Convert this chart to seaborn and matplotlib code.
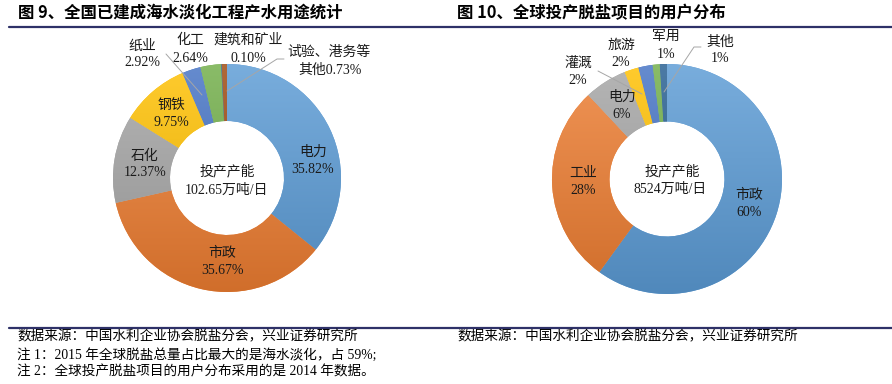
import matplotlib
matplotlib.use("Agg")
import numpy as np
import matplotlib.pyplot as plt
import seaborn as sns
from matplotlib.colors import LinearSegmentedColormap, to_rgb
from matplotlib.lines import Line2D

# data
left_names = ['电力', '市政', '石化', '钢铁', '化工', '纸业', '建筑和矿业', '试验、港务等其他']
left_values = [35.82, 35.67, 12.37, 9.75, 2.64, 2.92, 0.10, 0.73]
left_total = '102.65万吨/日'

right_names = ['市政', '工业', '电力', '灌溉', '旅游', '军用', '其他']
right_values = [60, 28, 6, 2, 2, 1, 1]
right_total = '8524万吨/日'

office_colors = ['#5B9BD5', '#ED7D31', '#A5A5A5', '#FFC000',
                 '#4472C4', '#70AD47', '#255E91', '#9E480E']

sns.set_theme(style="white")
plt.rcParams['font.family'] = ['Liberation Serif', 'Noto Sans CJK SC', 'DejaVu Sans']
palette = sns.color_palette(office_colors)

W, H = 892, 384
fig = plt.figure(figsize=(W / 100, H / 100), dpi=100)
fig.patch.set_facecolor('white')


def fx(x):
    return x / W


def fy(y):
    return 1 - y / H


def put(x, y, s, size=10, **kw):
    fig.text(fx(x), fy(y), s, ha=kw.pop('ha', 'center'), va='center',
             fontsize=size, color=kw.pop('color', '#1a1a1a'), **kw)


def leader(points):
    xs = [fx(p[0]) for p in points]
    ys = [fy(p[1]) for p in points]
    fig.add_artist(Line2D(xs, ys, transform=fig.transFigure,
                          color='#A6A6A6', lw=0.7))


def shade(c, f):
    r = np.array(to_rgb(c))
    if f > 0:
        return tuple(r + (1 - r) * f)
    return tuple(r * (1 + f))


def donut(cx, cy, r, values, colors):
    ax = fig.add_axes([(cx - r) / W, (H - cy - r) / H, 2 * r / W, 2 * r / H])
    wedges, _ = ax.pie(values, colors=colors, startangle=90, counterclock=False,
                       radius=1, wedgeprops=dict(width=0.5, linewidth=0))
    grad = np.linspace(0, 1, 256).reshape(-1, 1)
    for w, c in zip(wedges, colors):
        cmap = LinearSegmentedColormap.from_list('g', [shade(c, 0.18), shade(c, -0.12)])
        im = ax.imshow(grad, cmap=cmap, extent=(-1, 1, -1, 1), origin='upper',
                       aspect='auto', zorder=w.get_zorder())
        im.set_clip_path(w)
    ax.set_xlim(-1, 1)
    ax.set_ylim(-1, 1)
    ax.axis('off')
    return ax


# titles and rules
put(18, 13, '图 9、全国已建成海水淡化工程产水用途统计', size=11.8, ha='left',
    weight='bold', family=['Noto Sans CJK SC', 'DejaVu Sans'], color='black')
put(457, 13, '图 10、全球投产脱盐项目的用户分布', size=11.8, ha='left',
    weight='bold', family=['Noto Sans CJK SC', 'DejaVu Sans'], color='black')
for yy in (27, 328):
    fig.add_artist(Line2D([fx(9), 1], [fy(yy), fy(yy)], transform=fig.transFigure,
                          color='#2E3168', lw=1.6))

# left donut
donut(227, 178, 114, left_values, [palette[i] for i in range(len(left_values))])
pct_left = [f'{v:.2f}%' for v in left_values]
left_pos = [(313, 152, 170), (222, 253, 270), (145, 156, 173), (171, 105, 123),
            (190, 40, 58), (142, 46, 63), (248, 40, 58)]
for (x, y1, y2), n, p in zip(left_pos, left_names, pct_left):
    put(x, y1, n)
    put(x, y2, p)
put(329, 52, left_names[7][:6])
put(330, 70, left_names[7][6:] + pct_left[7])
put(227, 172, '投产产能')
put(226, 190, left_total)
leader([(166, 54), (202, 95)])
leader([(284, 59), (277, 59), (227, 91)])

# right donut
donut(667, 179, 115, right_values, [palette[i] for i in range(len(right_values))])
pct_right = [f'{v}%' for v in right_values]
right_pos = [(749, 195, 212), (583, 173, 191), (622, 97, 114), (578, 63, 81),
             (621, 45, 63), (666, 36, 55), (720, 42, 59)]
for (x, y1, y2), n, p in zip(right_pos, right_names, pct_right):
    put(x, y1, n)
    put(x, y2, p)
put(672, 172, '投产产能')
put(670, 189, right_total)
leader([(598, 71), (642, 94)])
leader([(701, 47), (694, 47), (664, 92)])

# footnotes
src = '数据来源：中国水利企业协会脱盐分会，兴业证券研究所'
put(17, 337, src, size=9.8, ha='left', color='black')
put(17, 355, '注 1：2015 年全球脱盐总量占比最大的是海水淡化，占 59%;', size=9.8, ha='left', color='black')
put(17, 372, '注 2：全球投产脱盐项目的用户分布采用的是 2014 年数据。', size=9.8, ha='left', color='black')
put(457, 337, src, size=9.8, ha='left', color='black')

fig.savefig('out.png', dpi=100, facecolor='white')
